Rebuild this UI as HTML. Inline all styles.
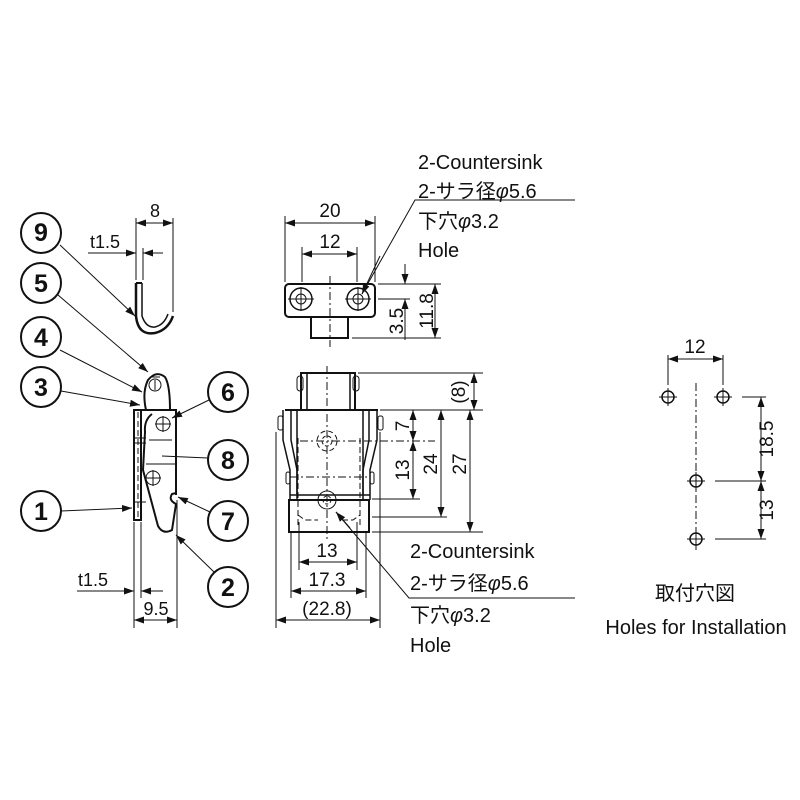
<!DOCTYPE html>
<html><head><meta charset="utf-8"><style>
html,body{margin:0;padding:0;background:#fff}
svg{display:block}
text{font-family:"Liberation Sans","Noto Sans CJK JP",sans-serif;fill:#111}
</style></head><body>
<svg width="800" height="800" viewBox="0 0 800 800" xmlns="http://www.w3.org/2000/svg">
<defs>
<marker id="a" viewBox="0 0 10 10" refX="10" refY="5" markerWidth="10" markerHeight="10" orient="auto-start-reverse" markerUnits="userSpaceOnUse"><path d="M0,1.5 L10,5 L0,8.5z" fill="#111"/></marker>
</defs>
<g stroke="#111" fill="none" stroke-width="1">
<!-- hook (9) -->
<path d="M136,283 V316 Q138,336 155,333 Q168,330 173,316" stroke-width="2.5"/>
<path d="M142,283 V316 Q146,328 155,327 Q164,325 168,314" stroke-width="1.5"/>
<path d="M136,283 H142" stroke-width="2"/>
<line x1="136" y1="218" x2="136" y2="280"/>
<line x1="143" y1="248" x2="143" y2="280"/>
<line x1="173" y1="218" x2="173" y2="312"/>
<line x1="136" y1="223" x2="173" y2="223" marker-start="url(#a)" marker-end="url(#a)"/>
<line x1="88" y1="253" x2="136" y2="253" marker-end="url(#a)"/>
<line x1="163" y1="253" x2="143" y2="253" marker-end="url(#a)"/>
<!-- latch body -->
<rect x="134" y="410" width="7" height="110" stroke-width="2"/>
<line x1="134" y1="410" x2="177" y2="410" stroke-width="2"/>
<line x1="176" y1="410" x2="176" y2="495" stroke-width="2"/>
<path d="M146,410 Q142,392 148,380 Q156,370 165,377 Q170,385 170,410" stroke-width="2"/>
<circle cx="155" cy="385" r="6"/>
<path d="M150,377 H160 M155,380 V390"/>
<path d="M152,414 Q144,420 145,432 L143,470 L158,526 Q163,535 172,530 L176,504 Q168,500 172,494 L176,493" stroke-width="2"/>
<circle cx="163" cy="424" r="7"/><path d="M155,424 H171 M163,416 V432"/>
<circle cx="153" cy="478" r="7"/><path d="M145,478 H161 M153,470 V486"/>
<line x1="149" y1="440" x2="172" y2="440"/>
<line x1="146" y1="464" x2="176" y2="464"/>
<line x1="134" y1="438" x2="146" y2="438"/><line x1="134" y1="443" x2="146" y2="443"/>
<line x1="134" y1="502" x2="146" y2="502"/>
<line x1="138" y1="412" x2="138" y2="520" stroke-dasharray="6 3"/>
<line x1="134" y1="522" x2="134" y2="628"/>
<line x1="141" y1="522" x2="141" y2="598"/>
<line x1="177" y1="500" x2="177" y2="628"/>
<line x1="77" y1="591" x2="134" y2="591" marker-end="url(#a)"/>
<line x1="163" y1="591" x2="141" y2="591" marker-end="url(#a)"/>
<line x1="134" y1="620" x2="177" y2="620" marker-start="url(#a)" marker-end="url(#a)"/>
<circle cx="41" cy="233" r="20" stroke-width="2"/>
<circle cx="41" cy="283" r="20" stroke-width="2"/>
<circle cx="41" cy="337" r="20" stroke-width="2"/>
<circle cx="41" cy="387" r="20" stroke-width="2"/>
<circle cx="41" cy="511" r="20" stroke-width="2"/>
<circle cx="228" cy="392" r="20" stroke-width="2"/>
<circle cx="228" cy="460" r="20" stroke-width="2"/>
<circle cx="228" cy="521" r="20" stroke-width="2"/>
<circle cx="228" cy="587" r="20" stroke-width="2"/>
<line x1="60" y1="245" x2="135" y2="316" marker-end="url(#a)"/>
<line x1="58" y1="295" x2="148" y2="372" marker-end="url(#a)"/>
<line x1="60" y1="350" x2="142" y2="392" marker-end="url(#a)"/>
<line x1="61" y1="391" x2="140" y2="405" marker-end="url(#a)"/>
<line x1="61" y1="511" x2="132" y2="508" marker-end="url(#a)"/>
<line x1="209" y1="400" x2="172" y2="418" marker-end="url(#a)"/>
<line x1="208" y1="458" x2="162" y2="456"/>
<line x1="210" y1="512" x2="178" y2="497" marker-end="url(#a)"/>
<line x1="214" y1="572" x2="176" y2="535" marker-end="url(#a)"/>

<!-- Top view -->
<rect x="285" y="284" width="90" height="33" rx="4" stroke-width="2"/>
<rect x="311" y="317" width="37" height="21" stroke-width="2"/>
<circle cx="301" cy="299" r="11" stroke-width="1.5"/><circle cx="301" cy="299" r="5"/>
<circle cx="358" cy="299" r="11" stroke-width="1.5"/><circle cx="358" cy="299" r="5"/>
<path d="M288,299 H314 M301,287 V311 M345,299 H371 M358,287 V311"/>
<line x1="330" y1="276" x2="330" y2="347" stroke-dasharray="8 3 2 3"/>
<line x1="285" y1="216" x2="285" y2="282"/>
<line x1="375" y1="216" x2="375" y2="282"/>
<line x1="302" y1="247" x2="302" y2="282"/>
<line x1="357" y1="247" x2="357" y2="282"/>
<line x1="285" y1="223" x2="375" y2="223" marker-start="url(#a)" marker-end="url(#a)"/>
<line x1="302" y1="254" x2="357" y2="254" marker-start="url(#a)" marker-end="url(#a)"/>
<line x1="378" y1="284" x2="441" y2="284"/>
<line x1="378" y1="299" x2="410" y2="299"/>
<line x1="352" y1="338" x2="441" y2="338"/>
<line x1="405" y1="264" x2="405" y2="284" marker-end="url(#a)"/>
<line x1="405" y1="340" x2="405" y2="299" marker-end="url(#a)"/>
<line x1="435" y1="284" x2="435" y2="338" marker-start="url(#a)" marker-end="url(#a)"/>
<polyline points="575,200 415,200 362,294"/>
<line x1="380" y1="256" x2="362" y2="294" marker-end="url(#a)"/>

<!-- Front view -->
<rect x="301" y="373" width="54" height="37" stroke-width="2"/>
<line x1="307" y1="373" x2="307" y2="410" stroke-width="1.5"/>
<line x1="350" y1="373" x2="350" y2="410" stroke-width="1.5"/>
<rect x="297" y="376" width="6" height="15" rx="3"/><rect x="353" y="376" width="6" height="15" rx="3"/>
<line x1="285" y1="410" x2="378" y2="410" stroke-width="2"/>
<path d="M283,410 V440 L290,470 V500 M291,410 V440 L297,470 V500" stroke-width="1.5"/>
<path d="M377,410 V440 L370,470 V500 M369,410 V440 L363,470 V500" stroke-width="1.5"/>
<rect x="278" y="416" width="5" height="14" rx="2"/><rect x="378" y="416" width="5" height="14" rx="2"/>
<rect x="286" y="472" width="4" height="12" rx="2"/><rect x="370" y="472" width="4" height="12" rx="2"/>
<line x1="297" y1="410" x2="297" y2="495" stroke-width="1.5"/>
<line x1="363" y1="410" x2="363" y2="495" stroke-width="1.5"/>
<line x1="290" y1="495" x2="370" y2="495" stroke-width="1.5"/>
<rect x="289" y="500" width="80" height="32" stroke-width="2"/>
<path d="M298,438 V525 M360,438 V525" stroke-dasharray="6 3"/>
<path d="M298,515 L305,520 H318 M342,520 H353 L360,515" stroke-dasharray="6 3"/>
<circle cx="327" cy="441" r="10" stroke-dasharray="5 3"/>
<circle cx="327" cy="441" r="5" stroke-dasharray="4 2"/>
<circle cx="327" cy="500" r="9"/><circle cx="327" cy="500" r="4" stroke-dasharray="3 2"/>
<line x1="327" y1="366" x2="327" y2="540" stroke-dasharray="8 3 2 3"/>
<line x1="300" y1="441" x2="435" y2="441" stroke-dasharray="8 3 2 3"/>
<line x1="290" y1="477" x2="368" y2="477" stroke-dasharray="8 3 2 3"/>
<line x1="358" y1="373" x2="483" y2="373"/>
<line x1="380" y1="410" x2="483" y2="410"/>
<line x1="372" y1="499" x2="420" y2="499"/>
<line x1="372" y1="517" x2="447" y2="517"/>
<line x1="372" y1="532" x2="483" y2="532"/>
<line x1="474" y1="373" x2="474" y2="410" marker-start="url(#a)" marker-end="url(#a)"/>
<line x1="470" y1="410" x2="470" y2="532" marker-start="url(#a)" marker-end="url(#a)"/>
<line x1="441" y1="410" x2="441" y2="517" marker-start="url(#a)" marker-end="url(#a)"/>
<line x1="413" y1="410" x2="413" y2="441" marker-start="url(#a)" marker-end="url(#a)"/>
<line x1="413" y1="441" x2="413" y2="499" marker-start="url(#a)" marker-end="url(#a)"/>
<line x1="299" y1="522" x2="299" y2="570"/>
<line x1="357" y1="522" x2="357" y2="570"/>
<line x1="291" y1="532" x2="291" y2="598"/>
<line x1="366" y1="532" x2="366" y2="598"/>
<line x1="276" y1="432" x2="276" y2="628"/>
<line x1="380" y1="432" x2="380" y2="628"/>
<line x1="299" y1="562" x2="357" y2="562" marker-start="url(#a)" marker-end="url(#a)"/>
<line x1="291" y1="591" x2="366" y2="591" marker-start="url(#a)" marker-end="url(#a)"/>
<line x1="276" y1="620" x2="380" y2="620" marker-start="url(#a)" marker-end="url(#a)"/>
<polyline points="575,598 409,598 336,512"/>
<line x1="350" y1="528" x2="336" y2="512" marker-end="url(#a)"/>

<!-- Right -->
<circle cx="668" cy="397" r="6" stroke-width="1.5"/>
<circle cx="723" cy="397" r="6" stroke-width="1.5"/>
<circle cx="696" cy="481" r="6" stroke-width="1.5"/>
<circle cx="696" cy="539" r="6" stroke-width="1.5"/>
<path d="M659,397 H677 M668,388 V406 M714,397 H732 M723,388 V406 M687,481 H705 M696,472 V490 M687,539 H705 M696,530 V548"/>
<line x1="696" y1="383" x2="696" y2="550" stroke-dasharray="8 3 2 3"/>
<line x1="668" y1="355" x2="668" y2="385"/>
<line x1="723" y1="355" x2="723" y2="385"/>
<line x1="668" y1="359" x2="723" y2="359" marker-start="url(#a)" marker-end="url(#a)"/>
<line x1="742" y1="397" x2="766" y2="397"/>
<line x1="715" y1="481" x2="766" y2="481"/>
<line x1="715" y1="539" x2="766" y2="539"/>
<line x1="761" y1="397" x2="761" y2="481" marker-start="url(#a)" marker-end="url(#a)"/>
<line x1="761" y1="481" x2="761" y2="539" marker-start="url(#a)" marker-end="url(#a)"/>
</g>

<g font-size="20">
<text x="41" y="241" text-anchor="middle" font-size="25" font-weight="bold">9</text>
<text x="41" y="292" text-anchor="middle" font-size="25" font-weight="bold">5</text>
<text x="41" y="346" text-anchor="middle" font-size="25" font-weight="bold">4</text>
<text x="41" y="396" text-anchor="middle" font-size="25" font-weight="bold">3</text>
<text x="41" y="520" text-anchor="middle" font-size="25" font-weight="bold">1</text>
<text x="228" y="401" text-anchor="middle" font-size="25" font-weight="bold">6</text>
<text x="228" y="469" text-anchor="middle" font-size="25" font-weight="bold">8</text>
<text x="228" y="530" text-anchor="middle" font-size="25" font-weight="bold">7</text>
<text x="228" y="596" text-anchor="middle" font-size="25" font-weight="bold">2</text>
<text x="155" y="217" text-anchor="middle" font-size="18">8</text>
<text x="105" y="248" text-anchor="middle" font-size="18">t1.5</text>
<text x="93" y="586" text-anchor="middle" font-size="18">t1.5</text>
<text x="156" y="615" text-anchor="middle" font-size="18">9.5</text>

<text x="330" y="217" text-anchor="middle" font-size="19">20</text>
<text x="330" y="248" text-anchor="middle" font-size="19">12</text>
<text transform="translate(403,321) rotate(-90)" text-anchor="middle" font-size="19">3.5</text>
<text transform="translate(433,311) rotate(-90)" text-anchor="middle" font-size="19">11.8</text>
<text x="418" y="169">2-Countersink</text>
<text x="418" y="198">2-サラ径<tspan font-style="italic">φ</tspan>5.6</text>
<text x="418" y="228">下穴<tspan font-style="italic">φ</tspan>3.2</text>
<text x="418" y="257">Hole</text>

<text transform="translate(465,392) rotate(-90)" text-anchor="middle" font-size="19">(8)</text>
<text transform="translate(409,426) rotate(-90)" text-anchor="middle" font-size="19">7</text>
<text transform="translate(409,470) rotate(-90)" text-anchor="middle" font-size="19">13</text>
<text transform="translate(437,464) rotate(-90)" text-anchor="middle" font-size="19">24</text>
<text transform="translate(466,464) rotate(-90)" text-anchor="middle" font-size="19">27</text>
<text x="327" y="557" text-anchor="middle" font-size="19">13</text>
<text x="327" y="586" text-anchor="middle" font-size="19">17.3</text>
<text x="327" y="615" text-anchor="middle" font-size="19">(22.8)</text>
<text x="410" y="558">2-Countersink</text>
<text x="410" y="590">2-サラ径<tspan font-style="italic">φ</tspan>5.6</text>
<text x="410" y="622">下穴<tspan font-style="italic">φ</tspan>3.2</text>
<text x="410" y="652">Hole</text>

<text x="695" y="353" text-anchor="middle" font-size="19">12</text>
<text transform="translate(773,439) rotate(-90)" text-anchor="middle" font-size="19">18.5</text>
<text transform="translate(773,510) rotate(-90)" text-anchor="middle" font-size="19">13</text>
<text x="695" y="600" text-anchor="middle">取付穴図</text>
<text x="696" y="634" text-anchor="middle">Holes for Installation</text>
</g>
</svg>
</body></html>
